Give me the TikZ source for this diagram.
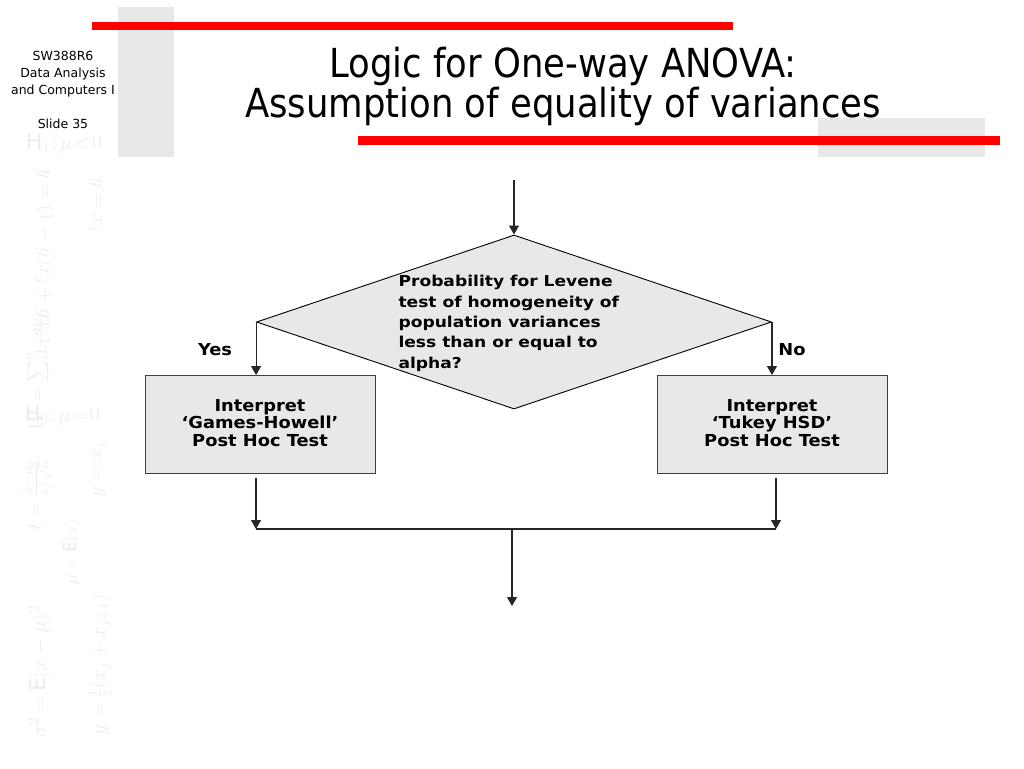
\documentclass[tikz,border=0pt]{standalone}
\usepackage{fontspec}
\usepackage{amsmath}
\setmainfont{DejaVu Sans}
\newfontfamily\titlefont[FakeStretch=0.886]{DejaVu Sans}
\newfontfamily\widefont[FakeStretch=1.14]{DejaVu Sans}
\newfontfamily\boxfont[FakeStretch=1.08]{DejaVu Sans}
\usetikzlibrary{arrows.meta,shapes.geometric}
\definecolor{redbar}{HTML}{FF0000}
\definecolor{strip}{HTML}{E8E8E8}
\definecolor{boxfill}{HTML}{E8E8E8}
\definecolor{faint}{HTML}{EDEDED}
\tikzset{
  conn/.style={line width=1.1pt, draw=black!85},
  arr/.style={conn, -{Triangle[width=10pt,length=9pt]}},
  procbox/.style={draw=black!75, line width=0.9pt, fill=boxfill, minimum width=230pt, minimum height=98pt, inner sep=0pt, anchor=north west},
  decision/.style={diamond, draw=black, line width=0.9pt, fill=boxfill, minimum width=515pt, minimum height=174pt, inner sep=0pt, aspect=2.96},
  boxtext/.style={font=\boxfont\bfseries\fontsize{16.5}{17.5}\selectfont, align=center, anchor=base},
  label/.style={font=\boxfont\bfseries\fontsize{16.5}{17}\selectfont, anchor=base},
  bgmath/.style={text=faint, font=\fontsize{22}{24}\selectfont, inner sep=0pt},
}
\begin{document}
\begin{tikzpicture}[x=1pt,y=-1pt]
\useasboundingbox (0,0) rectangle (1024,768);
\fill[white] (0,0) rectangle (1024,768);
% decorative background formulas
\node[bgmath] (f1) at (64,143) {$\mathrm{H}_1\!:\!\mu\!<\!0$};
\node[bgmath] (f2) at (62,415) {$\mathrm{H}_0\!:\!\mu\!=\!0$};
\node[bgmath, rotate=-90, font=\fontsize{20}{22}\selectfont] (f3) at (45,262) {$y=(1-g)x_j+gx_{j+1}$};
\node[bgmath, rotate=-90] (f4) at (95,205) {$y=x_j$};
\node[bgmath, rotate=90] (f5) at (38,372) {$W=\sum_{i=1}^n w_i$};
\node[bgmath, rotate=90] (f6) at (38,495) {$t=\frac{\bar{x}-\mu_0}{s/\sqrt{n}}$};
\node[bgmath, rotate=90] (f7) at (100,470) {$y=x_j$};
\node[bgmath, rotate=90, font=\fontsize{18}{20}\selectfont] (f8) at (72,552) {$\mu=\mathrm{E}(x)$};
\node[bgmath, rotate=90] (f9) at (40,672) {$\sigma^2=\mathrm{E}(x-\mu)^2$};
\node[bgmath, rotate=90] (f10) at (100,665) {$y=\frac{1}{2}(x_j+x_{j+1})$};
% slide decorations
\fill[strip] (118,7) rectangle (174,157);
\fill[redbar] (92,22) rectangle (733,30);
\fill[strip] (818,118) rectangle (985,157);
\fill[redbar] (358,136) rectangle (1000,145);
% side text
\node[font=\fontsize{12.5}{17}\selectfont, align=center, anchor=base] (side) at (63,94) {SW388R6\\Data Analysis\\and Computers I};
\node[font=\fontsize{12.5}{17}\selectfont, anchor=base] (slide) at (63,128) {Slide 35};
% title
\node[font=\titlefont\fontsize{40}{38}\selectfont, align=center, anchor=base] (title) at (563,117) {Logic for One-way ANOVA:\\Assumption of equality of variances};
% flowchart
\coordinate (start) at (514,180);
\node[decision] (dec) at (514,322) {};
\node[font=\widefont\bfseries\fontsize{15}{20.3}\selectfont, align=left, anchor=base west] (dectext) at (395,368) {Probability for Levene\\test of homogeneity of\\population variances\\less than or equal to\\alpha?};
\node[procbox] (gh) at (145,375) {};
\node[procbox] (tk) at (657,375) {};
\node[boxtext] (ghtext) at (260,446) {Interpret\\‘Games-Howell’\\Post Hoc Test};
\node[boxtext] (tktext) at (772,446) {Interpret\\‘Tukey HSD’\\Post Hoc Test};
\node[label] (yes) at (215,355) {Yes};
\node[label] (no) at (792,355) {No};
\draw[arr] (start) -- (dec.north);
\draw[arr] (dec.west) -- (dec.west |- gh.north);
\draw[arr] (dec.east) -- (dec.east |- tk.north);
\coordinate (ghout) at (256,478);
\coordinate (tkout) at (776,478);
\coordinate (jl) at (256,529);
\coordinate (jr) at (776,529);
\coordinate (jm) at (512,529);
\coordinate (endpt) at (512,606);
\draw[arr] (ghout) -- (jl);
\draw[arr] (tkout) -- (jr);
\draw[conn] (jl) -- (jr);
\draw[arr] (jm) -- (endpt);
\end{tikzpicture}
\end{document}
